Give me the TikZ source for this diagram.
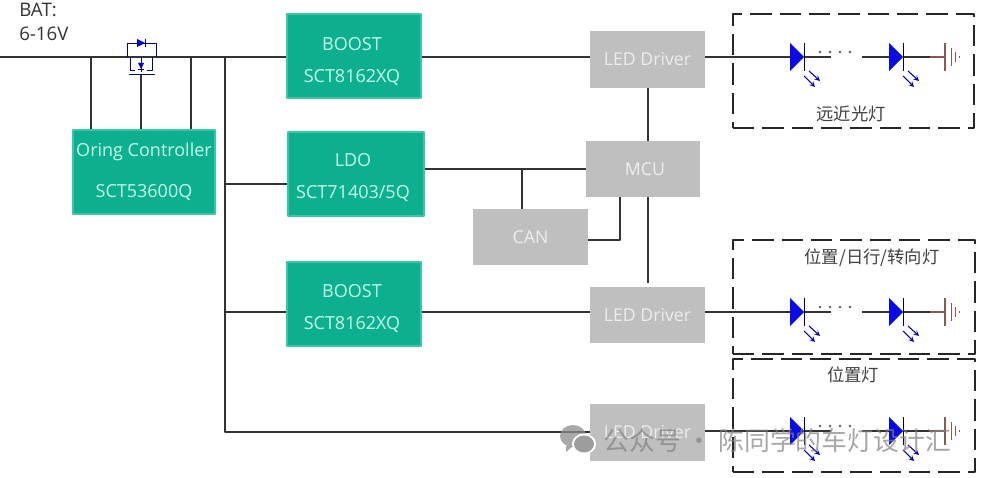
\documentclass[tikz,border=0pt]{standalone}
\usepackage{fontspec}
\setmainfont{Open Sans}
\newfontfamily\cjk{Noto Sans CJK SC}
\usetikzlibrary{calc}
\definecolor{tealfill}{HTML}{0DB08E}
\definecolor{tealedge}{HTML}{3CC8A6}
\definecolor{tealtext}{HTML}{C4FBE8}
\definecolor{greyfill}{HTML}{BFBFBF}
\definecolor{greytext}{HTML}{EDEDED}
\definecolor{ledblue}{HTML}{0A0AE6}
\definecolor{gndbrown}{HTML}{8A5A50}
\definecolor{wire}{HTML}{333333}
\def\u{0.75pt}
\tikzset{
	chip/.style={fill=tealfill,draw=tealedge,line width=1pt,text=tealtext,align=center,inner sep=0pt,font=\fontsize{13.5}{24}\selectfont},
	chiptext/.style={text=tealtext,align=center,inner sep=0pt,font=\fontsize{13.5}{24}\selectfont},
	block/.style={fill=greyfill,text=greytext,align=center,inner sep=0pt,font=\fontsize{13.3}{16}\selectfont},
	lampbox/.style={draw=black!85,dash pattern=on 16pt off 6pt,line width=0.8pt,inner sep=0pt},
	lamptext/.style={font=\cjk\fontsize{13}{15}\selectfont,text=black!75,inner sep=0pt},
	wiring/.style={draw=wire,line width=0.8pt},
	fet/.style={draw=blue!55!black,line width=0.6pt},
}
\begin{document}
\begin{tikzpicture}[x=\u,y=-\u,>=stealth,line join=round]
	\useasboundingbox (0,0) rectangle (981,478);
	% lamp frames
	\node[lampbox,minimum width=241*\u,minimum height=114*\u] (framea) at (853.5,71) {};
	\node[lampbox,minimum width=242*\u,minimum height=114*\u] (frameb) at (854,297) {};
	\node[lampbox,minimum width=242*\u,minimum height=113*\u] (framec) at (854,415.5) {};
	\node[lamptext] (texta) at (851,114) {远近光灯};
	\node[lamptext] (textb) at (872,258) {位置/日行/转向灯};
	\node[lamptext] (textc) at (853,375) {位置灯};
	% blocks
	\node[chip,minimum width=134*\u,minimum height=84*\u] (boosta) at (354,56) {};
	\node[chip,minimum width=134*\u,minimum height=84*\u] (boostb) at (354,304) {};
	\node[chip,minimum width=136*\u,minimum height=84*\u] (ldo) at (356,174) {};
	\node[chip,minimum width=142*\u,minimum height=84*\u] (oring) at (144,172) {};
	\node[chiptext] (boostatext) at (352,62) {BOOST\\SCT8162XQ};
	\node[chiptext] (boostbtext) at (352,308.5) {BOOST\\SCT8162XQ};
	\node[chiptext] (ldotext) at (353,177.5) {LDO\\SCT71403/5Q};
	\node[chiptext,font=\fontsize{13.5}{31}\selectfont] (oringtext) at (144,171.5) {Oring Controller\\SCT53600Q};
	\node[block,minimum width=115*\u,minimum height=57*\u] (drva) at (647.5,59.5) {LED Driver};
	\node[block,minimum width=115*\u,minimum height=56*\u] (drvb) at (647.5,315) {LED Driver};
	\node[block,minimum width=115*\u,minimum height=57*\u] (drvc) at (647.5,432.5) {LED Driver};
	\node[block,minimum width=114*\u,minimum height=56*\u] (mcu) at (643,169) {\hspace{3pt}MCU};
	\node[block,minimum width=115*\u,minimum height=56*\u] (can) at (530.5,237) {CAN};
	\node[inner sep=0pt,align=left,anchor=north west,font=\fontsize{14}{18}\selectfont,text=black!80] (bat) at (19,3) {BAT:\\6-16V};
	% bus
	\coordinate (start) at (0,57);
	\coordinate (tapa) at (91,57);
	\coordinate (tapb) at (191,57);
	\coordinate (tapc) at (225,57);
	\coordinate (tapd) at (225,432);
	\coordinate (gate) at (141,74);
	\coordinate (cantap) at (522,170);
	\coordinate (mcutop) at (648,141);
	\coordinate (mcudown) at (648,197);
	\draw[wiring] (start) -- (boosta.west |- start);
	\draw[wiring] (tapa) -- (tapa |- oring.north);
	\draw[wiring] (tapb) -- (tapb |- oring.north);
	\draw[wiring] (gate) -- (gate |- oring.north);
	\draw[wiring] (tapc) -- (tapd) -- (drvc.west |- tapd);
	\draw[wiring] ($(tapc |- ldo)+(0,10)$) -- ($(ldo.west)+(0,10)$);
	\draw[wiring] ($(tapc |- boostb)+(0,8)$) -- ($(boostb.west)+(0,8)$);
	\draw[wiring] (boosta.east |- start) -- (drva.west |- start);
	\draw[wiring] ($(boostb.east)+(0,8)$) -- ($(drvb.west)+(0,-3)$);
	\draw[wiring] (ldo.east |- mcu.west) -- (mcu.west);
	\draw[wiring] (cantap) -- (cantap |- can.north);
	\draw[wiring] ($(can.east)+(0,3)$) -| ($(mcu.south)+(-23,0)$);
	\draw[wiring] (mcutop |- drva.south) -- (mcutop);
	\draw[wiring] (mcudown) -- ($(mcudown |- drvb.north)+(0,-4)$);
	% ideal diode
	\draw[fet] (127,57) -- (127,43) -- (156,43) -- (156,57);
	\fill[blue!80!black] (137,39) -- (145,43) -- (137,47) -- cycle;
	\draw[fet] (145,39) -- (145,47);
	\draw[fet] (130,57) -- (130,70) -- (135,70);
	\draw[fet] (152,57) -- (152,70) -- (147,70);
	\draw[fet] (129,74) -- (155,74);
	\draw[fet] (141,57) -- (141,72);
	\fill[blue!80!black] (138,63) -- (144,63) -- (141,69) -- cycle;
	\draw[fet] (138,69) -- (144,69);
	% LED strings
	\foreach \r/\d/\yy in {a/drva/57,b/drvb/312,c/drvc/431}{
		\coordinate (out\r) at (790,\yy);
		\coordinate (gap\r) at (831,\yy);
		\coordinate (back\r) at (862,\yy);
		\coordinate (ledb\r) at (889,\yy);
		\coordinate (gnd\r) at (945,\yy);
		\draw[wiring] (\d.east |- out\r) -- (out\r);
		\draw[wiring] (805,\yy) -- (gap\r);
		\draw[wiring] (back\r) -- (ledb\r);
		\draw[wiring] (903,\yy) -- (930,\yy);
		\draw[gndbrown,line width=0.8pt] (930,\yy) -- (gnd\r);
		\foreach \xx in {790,889}{
			\fill[ledblue] (\xx,\yy-14) -- (\xx+14,\yy) -- (\xx,\yy+14) -- cycle;
			\draw[black!80!blue,line width=0.7pt] (\xx+14.5,\yy-14) -- (\xx+14.5,\yy+14);
			\draw[->,blue!70!black,line width=0.8pt] (\xx+19,\yy+14) -- (\xx+30,\yy+24);
			\draw[->,blue!70!black,line width=0.8pt] (\xx+14,\yy+19) -- (\xx+25,\yy+30);
		}
		\foreach \xx in {820,830,840,850}
			\fill[black!65] (\xx,\yy-5) circle (1pt);
		\draw[gndbrown,line width=0.8pt] (945,\yy-14) -- (945,\yy+14);
		\draw[gndbrown,line width=0.7pt] (951,\yy-9) -- (951,\yy+9);
		\draw[gndbrown,line width=0.7pt] (955,\yy-5) -- (955,\yy+5);
		\draw[gndbrown,line width=0.7pt] (959,\yy-1) -- (959,\yy+1);
	}
	% watermark
	\fill[black!45,opacity=.75] (573,436) ellipse (13 and 11);
	\fill[black!45,opacity=.75] (566,446) -- (566,452) -- (573,446) -- cycle;
	\fill[white] (584,444) ellipse (12 and 10.5);
	\fill[black!45,opacity=.85] (584,444) ellipse (10 and 8.5);
	\node[inner sep=0pt,anchor=west,text=black!50,opacity=.7,font=\cjk\fontsize{19.4}{20}\selectfont] (mark) at (603,441) {公众号 · 陈同学的车灯设计汇};
\end{tikzpicture}
\end{document}
